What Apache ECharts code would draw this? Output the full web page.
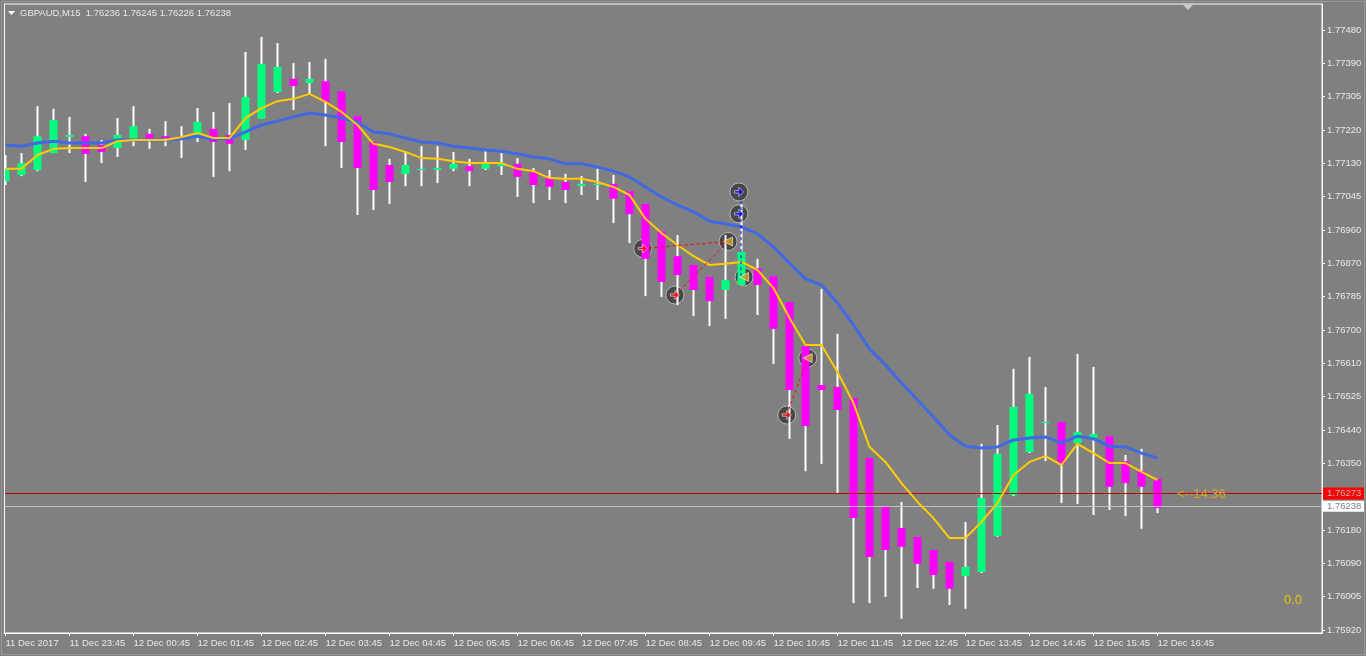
<!DOCTYPE html>
<html>
<head>
<meta charset="utf-8">
<title>GBPAUD,M15</title>
<style>html,body{margin:0;padding:0;background:#808080}#c{width:1366px;height:656px}</style>
<script src="https://cdn.jsdelivr.net/npm/echarts@6/dist/echarts.min.js"></script>
</head>
<body>
<div id="c"></div>
<script>
const open = [1.77087,1.77103,1.77116,1.77160,1.77202,1.77204,1.77181,1.77173,1.77194,1.77210,1.77204,1.77204,1.77207,1.77223,1.77207,1.77194,1.77249,1.77319,1.77353,1.77342,1.77347,1.77321,1.77256,1.77189,1.77129,1.77106,1.77116,1.77116,1.77119,1.77126,1.77119,1.77126,1.77132,1.77113,1.77095,1.77085,1.77074,1.77077,1.77080,1.77061,1.77028,1.76957,1.76892,1.76869,1.76838,1.76804,1.76817,1.76861,1.76840,1.76773,1.76658,1.76557,1.76552,1.76523,1.76367,1.76240,1.76185,1.76162,1.76128,1.76097,1.76060,1.76071,1.76164,1.76271,1.76383,1.76458,1.76461,1.76406,1.76419,1.76424,1.76359,1.76333,1.76313];
const close = [1.77119,1.77134,1.77204,1.77246,1.77207,1.77158,1.77163,1.77207,1.77230,1.77197,1.77199,1.77199,1.77241,1.77189,1.77184,1.77306,1.77392,1.77384,1.77334,1.77353,1.77293,1.77189,1.77121,1.77064,1.77085,1.77129,1.77119,1.77121,1.77132,1.77113,1.77132,1.77132,1.77098,1.77077,1.77072,1.77064,1.77080,1.77080,1.77041,1.77001,1.76885,1.76825,1.76843,1.76804,1.76775,1.76830,1.76903,1.76817,1.76703,1.76544,1.76450,1.76544,1.76492,1.76211,1.76110,1.76128,1.76136,1.76092,1.76063,1.76027,1.76084,1.76263,1.76378,1.76500,1.76534,1.76461,1.76352,1.76435,1.76430,1.76292,1.76302,1.76292,1.76237];
const low = [1.77077,1.77100,1.77113,1.77160,1.77160,1.77085,1.77134,1.77150,1.77178,1.77171,1.77178,1.77147,1.77189,1.77098,1.77113,1.77168,1.77249,1.77316,1.77272,1.77314,1.77178,1.77121,1.76999,1.77012,1.77028,1.77074,1.77074,1.77082,1.77113,1.77074,1.77116,1.77103,1.77046,1.77030,1.77038,1.77030,1.77051,1.77038,1.76978,1.76926,1.76788,1.76786,1.76765,1.76736,1.76710,1.76729,1.76817,1.76739,1.76612,1.76417,1.76333,1.76352,1.76276,1.75990,1.75990,1.76006,1.75949,1.76029,1.76027,1.75985,1.75975,1.76068,1.76162,1.76268,1.76380,1.76359,1.76250,1.76248,1.76219,1.76232,1.76216,1.76183,1.76224];
const high = [1.77155,1.77160,1.77282,1.77275,1.77254,1.77210,1.77194,1.77251,1.77282,1.77223,1.77243,1.77230,1.77277,1.77267,1.77290,1.77423,1.77462,1.77446,1.77394,1.77397,1.77405,1.77321,1.77256,1.77189,1.77145,1.77163,1.77178,1.77178,1.77163,1.77145,1.77165,1.77160,1.77147,1.77121,1.77116,1.77106,1.77100,1.77119,1.77103,1.77061,1.77028,1.76957,1.76947,1.76869,1.76838,1.76947,1.77028,1.76885,1.76840,1.76773,1.76658,1.76807,1.76690,1.76523,1.76367,1.76240,1.76253,1.76162,1.76128,1.76097,1.76201,1.76404,1.76453,1.76599,1.76630,1.76552,1.76461,1.76638,1.76604,1.76424,1.76375,1.76391,1.76313];
const fastMA = [1.77119,1.77119,1.77155,1.77171,1.77173,1.77173,1.77173,1.77191,1.77194,1.77194,1.77194,1.77202,1.77212,1.77199,1.77199,1.77251,1.77277,1.77295,1.77301,1.77314,1.77293,1.77267,1.77233,1.77184,1.77176,1.77163,1.77147,1.77145,1.77139,1.77134,1.77134,1.77134,1.77119,1.77113,1.77095,1.77093,1.77093,1.77085,1.77072,1.77051,1.76989,1.76952,1.76921,1.76892,1.76869,1.76872,1.76877,1.76856,1.76809,1.76731,1.76661,1.76661,1.76591,1.76510,1.76396,1.76357,1.76302,1.76253,1.76211,1.76159,1.76159,1.76201,1.76250,1.76323,1.76357,1.76372,1.76349,1.76404,1.76380,1.76354,1.76354,1.76331,1.76310];
const slowMA = [1.77181,1.77178,1.77186,1.77191,1.77186,1.77186,1.77186,1.77194,1.77194,1.77194,1.77194,1.77197,1.77204,1.77197,1.77197,1.77215,1.77233,1.77243,1.77254,1.77264,1.77259,1.77251,1.77241,1.77215,1.77210,1.77199,1.77189,1.77186,1.77178,1.77173,1.77168,1.77165,1.77158,1.77150,1.77145,1.77132,1.77132,1.77124,1.77113,1.77098,1.77072,1.77046,1.77025,1.77007,1.76983,1.76976,1.76968,1.76950,1.76916,1.76874,1.76833,1.76817,1.76770,1.76713,1.76651,1.76609,1.76562,1.76518,1.76474,1.76427,1.76398,1.76393,1.76396,1.76414,1.76419,1.76422,1.76406,1.76424,1.76417,1.76398,1.76396,1.76380,1.76367];

const xTickBars = [0,4,8,12,16,20,24,28,32,36,40,44,48,52,56,60,64,68,72];
const xTickLabels = ["11 Dec 2017","11 Dec 23:45","12 Dec 00:45","12 Dec 01:45","12 Dec 02:45","12 Dec 03:45","12 Dec 04:45","12 Dec 05:45","12 Dec 06:45","12 Dec 07:45","12 Dec 08:45","12 Dec 09:45","12 Dec 10:45","12 Dec 11:45","12 Dec 12:45","12 Dec 13:45","12 Dec 14:45","12 Dec 15:45","12 Dec 16:45"];
const yTickValues = [1.77480,1.773933,1.773067,1.77220,1.771333,1.770467,1.76960,1.768733,1.767867,1.76700,1.766133,1.765267,1.76440,1.763533,1.76180,1.760933,1.760067,1.75920];
const yTickLabels = ["1.77480","1.77390","1.77305","1.77220","1.77130","1.77045","1.76960","1.76870","1.76785","1.76700","1.76610","1.76525","1.76440","1.76350","1.76180","1.76090","1.76005","1.75920"];

const buyMarks = [[39.83,1.76912],[41.84,1.76791],[48.83,1.76479]];
const sellMarks = [[45.16,1.76930],[46.16,1.76838],[50.14,1.76627]];
const blueMarks = [[45.84,1.77059],[45.84,1.77002]];
const redDash1 = [[39.83,1.76912],[45.16,1.76930]];
const redDash2 = [[41.84,1.76791],[45.16,1.76930]];
const redDash3 = [[48.83,1.76479],[50.14,1.76627]];
const blueDash = [[45.97,1.77035],[45.97,1.76838]];
const askLine = 1.76275, askText = "1.76273";
const bidLine = 1.76242, bidText = "1.76238";
const headerText = "GBPAUD,M15  1.76236 1.76245 1.76226 1.76238";

const FONT = '"Liberation Sans",sans-serif';
const idx = open.map((_, i) => i);
const wicks = idx.map(i => [i, open[i], close[i], low[i], high[i]]);
const bodies = idx.map(i => [i, open[i], close[i], Math.min(open[i], close[i]), Math.max(open[i], close[i])]);
const maData = a => a.map((v, i) => [i, v]);
const ARROW = 'path://M0 3H4V0L8 4L4 8V5H0Z';
const dash = (d, color) => ({type:'line', data:d, symbol:'none', silent:true, z:6, animation:false,
  lineStyle:{color, width:1, type:[3,3]}});
const arrowSeries = (d, color, symbol, rotate, size) => ({type:'scatter', data:d, symbol, symbolRotate:rotate, symbolSize:size, z:9, animation:false, silent:true,
  itemStyle:{color, borderColor:'#ffffff', borderWidth:0.7}});

const chart = echarts.init(document.getElementById('c'), null, {renderer:'canvas'});
chart.setOption({
  animation:false,
  backgroundColor:'#808080',
  grid:{left:4, right:44, top:4, height:629, show:true, borderColor:'#ffffff', borderWidth:1, backgroundColor:'#808080', containLabel:false, outerBoundsMode:'none'},
  tooltip:{show:false},
  xAxis:{type:'value', min:-0.09375, max:82.28125, splitLine:{show:false},
    axisLine:{show:true, onZero:false, lineStyle:{color:'#ffffff'}},
    axisTick:{show:true, length:3, customValues:xTickBars, lineStyle:{color:'#ffffff'}},
    axisLabel:{show:true, customValues:xTickBars, color:'#e8e8e8', fontFamily:FONT, fontSize:9.5, margin:5, align:'left', showMinLabel:true, showMaxLabel:true, hideOverlap:false,
      formatter:(v, i) => xTickLabels[xTickBars.indexOf(Math.round(v))]}},
  yAxis:{type:'value', position:'right', min:1.759122, max:1.775476, splitLine:{show:false},
    axisLine:{show:true, onZero:false, lineStyle:{color:'#ffffff'}},
    axisTick:{show:true, length:3, customValues:yTickValues, lineStyle:{color:'#ffffff'}},
    axisLabel:{show:true, customValues:yTickValues, color:'#e8e8e8', fontFamily:FONT, fontSize:9.5, margin:5, align:'left', hideOverlap:false,
      formatter:(v, i) => yTickLabels[yTickValues.indexOf(v)]}},
  series:[
    {type:'scatter', name:'signalDiscs', z:1, silent:true, animation:false, symbol:'circle', symbolSize:18,
      data:[...buyMarks, ...sellMarks, ...blueMarks], itemStyle:{color:'#3a3a3a', borderColor:'#c8c8c8', borderWidth:1}},
    {type:'candlestick', name:'wicks', z:2, silent:true, animation:false, barWidth:1, data:wicks, encode:{x:0,y:[1,2,3,4]},
      itemStyle:{color:'#ffffff', color0:'#ffffff', borderColor:'#ffffff', borderColor0:'#ffffff', borderColorDoji:'#ffffff', borderWidth:2}},
    {type:'candlestick', name:'bodies', z:3, silent:true, animation:false, barWidth:9, data:bodies, encode:{x:0,y:[1,2,3,4]},
      itemStyle:{color:'#00ff7f', color0:'#ff00ff', borderColor:'#00ff7f', borderColor0:'#ff00ff', borderColorDoji:'#00ff7f', borderWidth:0}},
    {type:'line', name:'slowMA', z:4, data:maData(slowMA), symbol:'none', silent:true, animation:false, lineStyle:{color:'#4169e1', width:3},
      markLine:{silent:true, animation:false, symbol:'none', precision:5, data:[
        {yAxis:askLine, lineStyle:{color:'#c00000', width:1, type:'solid'},
          label:{show:true, position:'end', formatter:askText, distance:1, color:'#b8b8b8', backgroundColor:'#ff0000', fontFamily:FONT, fontSize:9.5, padding:[0,4,0,4], width:33, height:12, lineHeight:12}},
        {yAxis:bidLine, lineStyle:{color:'#c0c0c0', width:1, type:'solid'},
          label:{show:true, position:'end', formatter:bidText, distance:1, color:'#808080', backgroundColor:'#ffffff', fontFamily:FONT, fontSize:9.5, padding:[0,4,0,4], width:33, height:11, lineHeight:11}}
      ]}},
    {type:'line', name:'fastMA', z:5, data:maData(fastMA), symbol:'none', silent:true, animation:false, lineStyle:{color:'#ffcc00', width:2}},
    dash(redDash1,'#ff0000'), dash(redDash2,'#ff0000'), dash(redDash3,'#ff0000'), dash(blueDash,'#0000ff'),
    arrowSeries(buyMarks,'#ff0000',ARROW,0,9),
    arrowSeries(blueMarks,'#0000ff',ARROW,0,9),
    arrowSeries(sellMarks,'#daa520','triangle',90,9)
  ],
  graphic:[
    {type:'rect', silent:true, z:50, shape:{x:0,y:4,width:4.5,height:629}, style:{fill:'#808080', stroke:null}},
    {type:'line', silent:true, z:51, shape:{x1:4.5,y1:4,x2:4.5,y2:633}, style:{stroke:'#ffffff', lineWidth:1}},
    {type:'rect', silent:true, z:51, shape:{x:1.5,y:1.5,width:1363,height:653}, style:{fill:null, stroke:'#999999', lineWidth:1}},
    {type:'polygon', silent:true, z:51, shape:{points:[[8,11],[15,11],[11.5,15]]}, style:{fill:'#ffffff'}},
    {type:'text', silent:true, z:51, x:20, y:8, style:{text:headerText, fill:'#e8e8e8', font:'9.5px '+FONT}},
    {type:'polygon', silent:true, z:51, shape:{points:[[1183,5],[1193,5],[1188,10]]}, style:{fill:'#c8c8c8'}},
    {type:'text', silent:true, z:51, x:1177, y:488, style:{text:'<--14:36', fill:'#daa520', font:'13px "Liberation Sans",sans-serif'}},
    {type:'text', silent:true, z:51, x:1284, y:594, style:{text:'0.0', fill:'#e6c800', font:'13px "Liberation Sans",sans-serif'}}
  ]
});
</script>
</body>
</html>
